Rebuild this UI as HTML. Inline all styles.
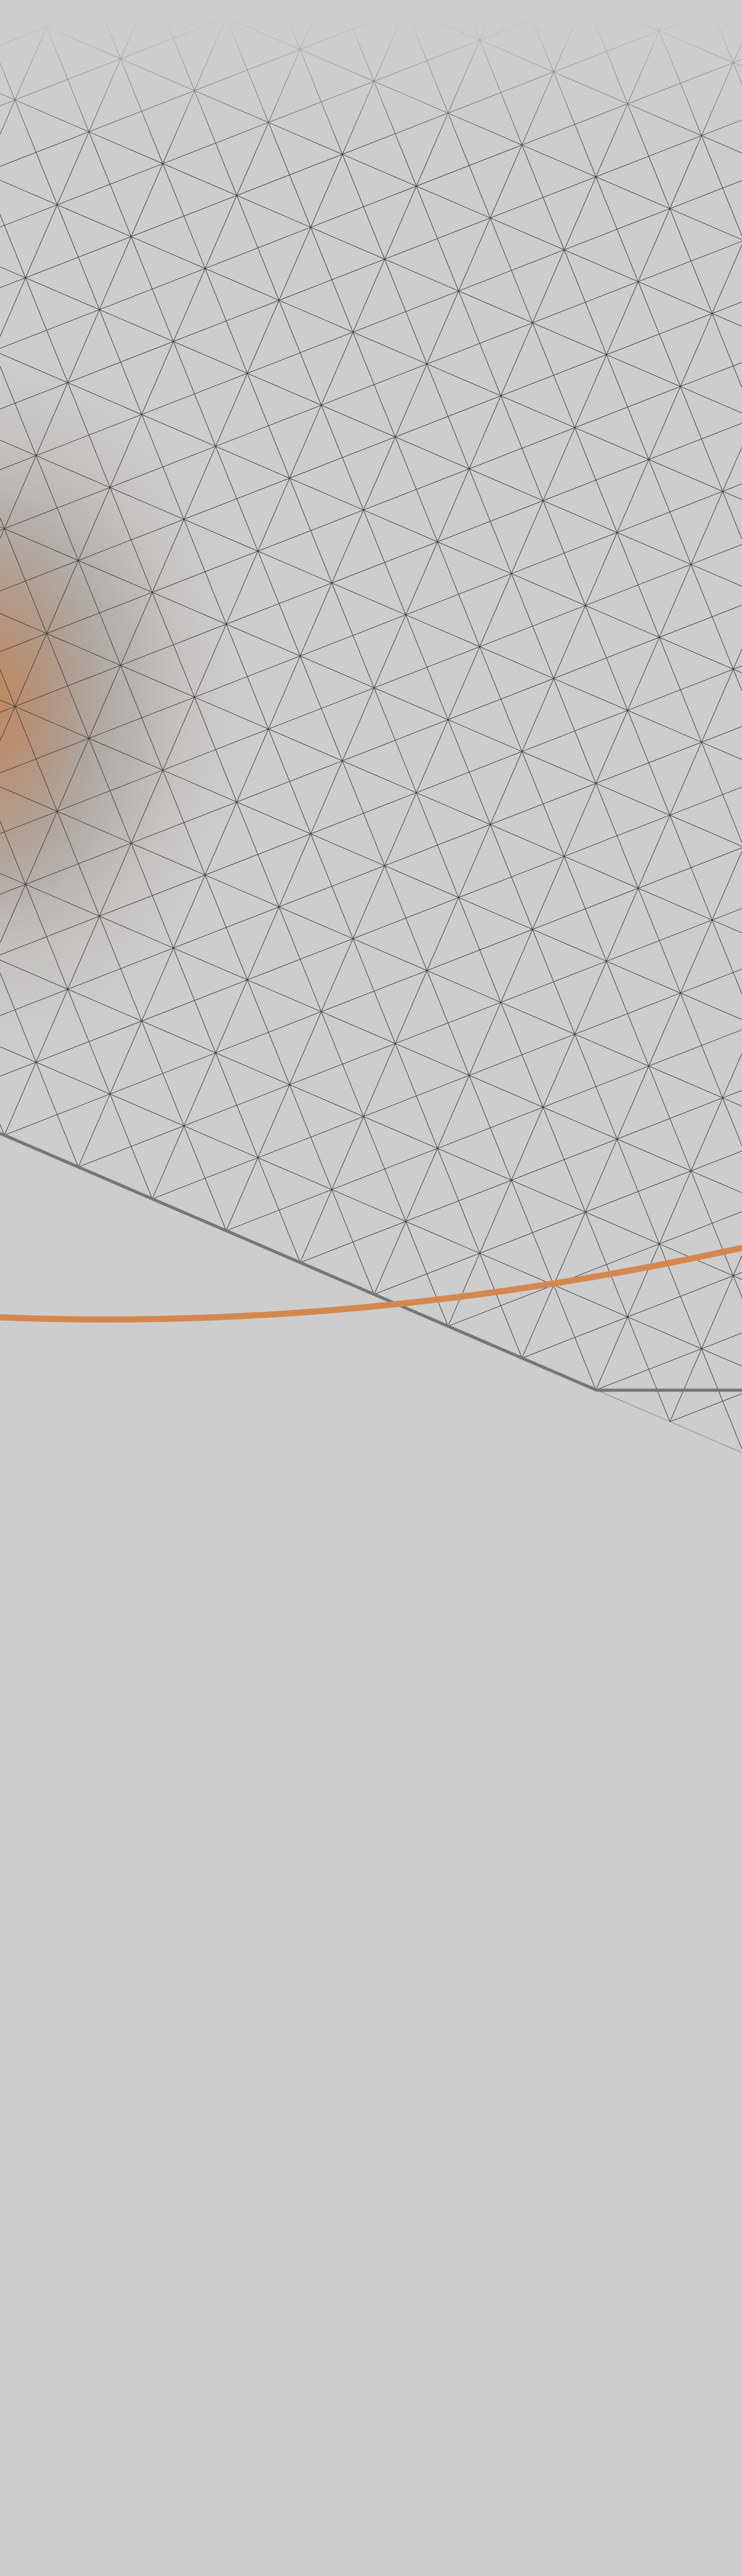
<!DOCTYPE html>
<html><head><meta charset="utf-8"><title>Triangle grid background</title>
<style>
html,body{margin:0;padding:0;background:#cdcdcd;overflow:hidden;}
#stage{position:relative;width:1440px;height:5100px;overflow:hidden;background:#cdcdcd;}
svg{position:absolute;left:0;top:0;overflow:hidden;display:block;}
</style></head>
<body>
<div id="stage">
<svg id="svg" width="1440" height="3000" viewBox="0 0 1440 3000">
  <defs>
    <radialGradient id="halo" cx="0" cy="1360" r="1" gradientUnits="userSpaceOnUse" gradientTransform="translate(0 1360) scale(520 740) translate(0 -1360)">
      <stop offset="0" stop-color="#8c827a" stop-opacity="0.75"/>
      <stop offset="0.5" stop-color="#958e88" stop-opacity="0.42"/>
      <stop offset="1" stop-color="#cdcdcd" stop-opacity="0"/>
    </radialGradient>
    <radialGradient id="glow" cx="0" cy="1370" r="1" gradientUnits="userSpaceOnUse" gradientTransform="translate(-40 1370) scale(280 440) translate(0 -1370)">
      <stop offset="0" stop-color="#d0844c" stop-opacity="0.85"/>
      <stop offset="0.55" stop-color="#c08a66" stop-opacity="0.4"/>
      <stop offset="1" stop-color="#b09a8a" stop-opacity="0"/>
    </radialGradient>
    <linearGradient id="fadeGrad" x1="0" y1="30" x2="0" y2="300" gradientUnits="userSpaceOnUse">
      <stop offset="0" stop-color="#000"/>
      <stop offset="1" stop-color="#fff"/>
    </linearGradient>
    <mask id="fadeMask" maskUnits="userSpaceOnUse" x="0" y="0" width="1440" height="3000">
      <rect x="0" y="0" width="1440" height="3000" fill="url(#fadeGrad)"/>
    </mask>
    <clipPath id="gridClip"><polygon id="clipPoly" points="0,0 1440,0 1440,2820 0,2200"/></clipPath>
  </defs>
  <rect x="0" y="0" width="1440" height="3000" fill="#cdcdcd"/>
  <rect x="0" y="500" width="600" height="1800" fill="url(#halo)"/>
  <rect x="0" y="850" width="400" height="1100" fill="url(#glow)"/>
  <g id="grid" clip-path="url(#gridClip)" mask="url(#fadeMask)" stroke="#3e3e3e" stroke-width="1.1" fill="none"></g>
  <path id="grayLine" fill="none" stroke="#767676" stroke-width="6"/>
  <path id="orangeCurve" d="M 0 2557 Q 700 2585 1440 2422" fill="none" stroke="#d4884f" stroke-width="12"/>
</svg>
</div>
<script>
const origin = [29, 194];
const vecA = [143.5, 61.8];
const vecC = [-61.5, 141.7];
const boundaryRow = [12];
const cornerX = [1158];

const NS = 'http://www.w3.org/2000/svg';
const grid = document.getElementById('grid');
const BOX = [0, 0, 1440, 2900];
function pt(i, j){ return [origin[0] + i*vecA[0] + j*vecC[0], origin[1] + i*vecA[1] + j*vecC[1]]; }
function clipLine(p, ux, uy){
  let t0 = -1e5, t1 = 1e5;
  const ps = [[-ux, p[0]-BOX[0]], [ux, BOX[2]-p[0]], [-uy, p[1]-BOX[1]], [uy, BOX[3]-p[1]]];
  for (const [q, r] of ps) {
    if (Math.abs(q) < 1e-9) { if (r < 0) return null; continue; }
    const t = r / q;
    if (q < 0) { if (t > t0) t0 = t; } else { if (t < t1) t1 = t; }
  }
  if (t0 >= t1) return null;
  return [p[0]+ux*t0, p[1]+uy*t0, p[0]+ux*t1, p[1]+uy*t1];
}
function family(dir, pts, name){
  let d = '';
  const n = Math.hypot(dir[0], dir[1]);
  const ux = dir[0]/n, uy = dir[1]/n;
  pts.forEach(p => {
    const s = clipLine(p, ux, uy);
    if (s) d += 'M' + s[0].toFixed(1) + ' ' + s[1].toFixed(1) + 'L' + s[2].toFixed(1) + ' ' + s[3].toFixed(1);
  });
  const path = document.createElementNS(NS, 'path');
  path.setAttribute('d', d);
  
  
  grid.appendChild(path);
}
const rowPts = [], colPts = [];
for (let k = -40; k <= 40; k++) { rowPts.push(pt(0, k)); colPts.push(pt(k, 0)); }
family(vecA, rowPts, 'grid-lines-shallow');
family(vecC, colPts, 'grid-lines-steep-left');
family([vecA[0]+vecC[0], vecA[1]+vecC[1]], colPts, 'grid-lines-steep-right');
family([vecA[0]-vecC[0], vecA[1]-vecC[1]], colPts, 'grid-lines-rising');

const bp = pt(0, boundaryRow[0]);
const slope = vecA[1]/vecA[0];
function yAt(x){ return bp[1] + (x - bp[0])*slope; }
document.getElementById('clipPoly').setAttribute('points',
  '0,0 1440,0 1440,' + yAt(1440).toFixed(1) + ' 0,' + yAt(0).toFixed(1));
const cx = cornerX[0];
document.getElementById('grayLine').setAttribute('d',
  'M 0 ' + yAt(0).toFixed(1) + ' L ' + cx + ' ' + yAt(cx).toFixed(1) + ' L 1440 ' + yAt(cx).toFixed(1));
</script>
</body></html>
